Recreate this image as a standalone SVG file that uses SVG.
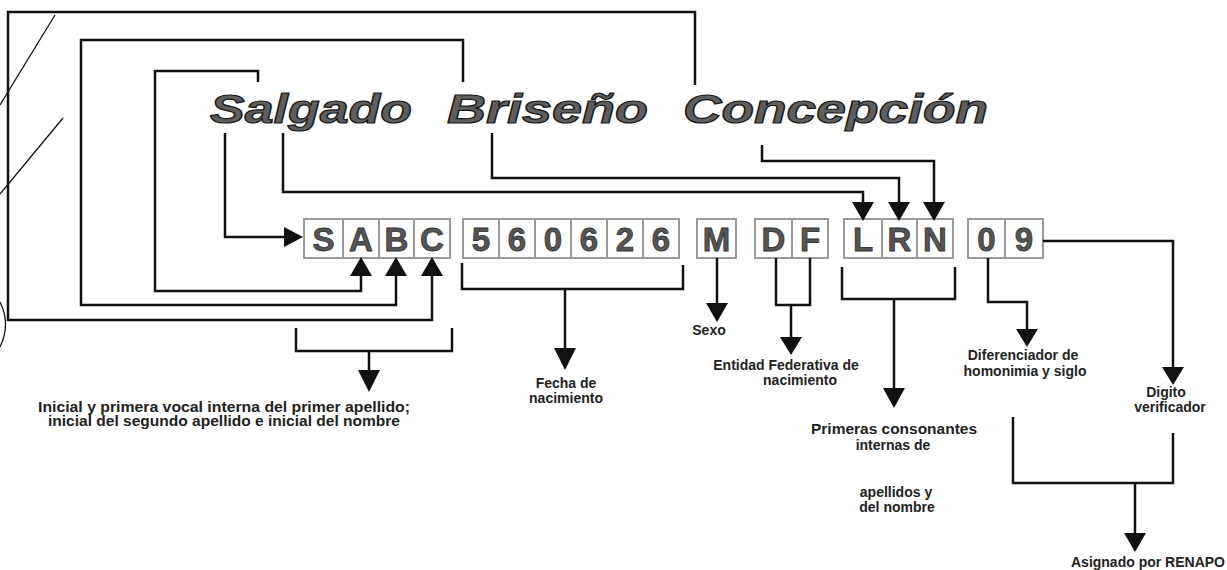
<svg xmlns="http://www.w3.org/2000/svg" width="1227" height="570" viewBox="0 0 1227 570">
<style>
.ln{fill:none;stroke:#111;stroke-width:2.5;stroke-linejoin:miter}
.thin{fill:none;stroke:#111;stroke-width:1.3}
.ah{fill:#111}
.cell{fill:#fff;stroke:#9a9a9a;stroke-width:2}
.ch{font-family:"Liberation Sans",Arial,sans-serif;font-weight:bold;font-size:33px;fill:#555;stroke:#333;stroke-width:0.8;text-anchor:middle}
.title{font-family:"Liberation Sans",Arial,sans-serif;font-weight:bold;font-style:italic;font-size:40px;fill:#5e5e5e;stroke:#1a1a1a;stroke-width:1.2}
.lbl{font-family:"Liberation Sans",Arial,sans-serif;font-weight:bold;font-size:14px;fill:#222;text-anchor:middle}
</style>
<rect width="1227" height="570" fill="#fff"/>

<g id="scribbles">
<path class="thin" d="M55,15 L0,105"/>
<path class="thin" d="M63,118 L0,194"/>
<path class="thin" d="M0,302 Q11,324 0,347"/>
</g>

<g id="title">
<text class="title" x="210" y="123" textLength="202" lengthAdjust="spacingAndGlyphs">Salgado</text>
<text class="title" x="447" y="123" textLength="201" lengthAdjust="spacingAndGlyphs">Briseño</text>
<text class="title" x="683" y="123" textLength="305" lengthAdjust="spacingAndGlyphs">Concepción</text>
</g>

<g id="sabc">
<rect class="cell" x="304" y="219" width="39" height="39"/>
<rect class="cell" x="343" y="219" width="36" height="39"/>
<rect class="cell" x="379" y="219" width="35" height="39"/>
<rect class="cell" x="414" y="219" width="36" height="39"/>
<text class="ch" x="323.5" y="251">S</text>
<text class="ch" x="361" y="251">A</text>
<text class="ch" x="396.5" y="251">B</text>
<text class="ch" x="432" y="251">C</text>
</g>

<g id="fecha">
<rect class="cell" x="463" y="219" width="36" height="39"/>
<rect class="cell" x="499" y="219" width="36" height="39"/>
<rect class="cell" x="535" y="219" width="36" height="39"/>
<rect class="cell" x="571" y="219" width="36" height="39"/>
<rect class="cell" x="607" y="219" width="36" height="39"/>
<rect class="cell" x="643" y="219" width="36" height="39"/>
<text class="ch" x="481" y="251">5</text>
<text class="ch" x="517" y="251">6</text>
<text class="ch" x="553" y="251">0</text>
<text class="ch" x="589" y="251">6</text>
<text class="ch" x="625" y="251">2</text>
<text class="ch" x="661" y="251">6</text>
</g>

<g id="sexo">
<rect class="cell" x="697" y="219" width="39" height="39"/>
<text class="ch" x="716.5" y="251">M</text>
</g>

<g id="entidad">
<rect class="cell" x="755" y="219" width="37" height="39"/>
<rect class="cell" x="792" y="219" width="36" height="39"/>
<text class="ch" x="773.5" y="251">D</text>
<text class="ch" x="810" y="251">F</text>
</g>

<g id="consonantes">
<rect class="cell" x="844" y="219" width="38" height="39"/>
<rect class="cell" x="882" y="219" width="35" height="39"/>
<rect class="cell" x="917" y="219" width="36" height="39"/>
<text class="ch" x="863" y="251">L</text>
<text class="ch" x="899.5" y="251">R</text>
<text class="ch" x="935" y="251">N</text>
</g>

<g id="homoclave">
<rect class="cell" x="968" y="219" width="37" height="39"/>
<rect class="cell" x="1005" y="219" width="38" height="39"/>
<text class="ch" x="986.5" y="251">0</text>
<text class="ch" x="1024" y="251">9</text>
</g>

<g id="connectors">
<path class="ln" d="M695,85 V12 H8 V320 H432 V274"/>
<polygon class="ah" points="432,257 421,276 443,276"/>
<path class="ln" d="M463,82 V40 H81 V305 H396 V274"/>
<polygon class="ah" points="396,257 385,276 407,276"/>
<path class="ln" d="M258,82 V71 H155 V291 H361 V274"/>
<polygon class="ah" points="361,257 350,276 372,276"/>
<path class="ln" d="M225,133 V237 H286"/>
<polygon class="ah" points="303,237 284,227 284,247"/>
<path class="ln" d="M283,133 V192 H863 V204"/>
<polygon class="ah" points="863,221 852,202 874,202"/>
<path class="ln" d="M492,133 V178 H899 V204"/>
<polygon class="ah" points="899,221 888,202 910,202"/>
<path class="ln" d="M762,145 V161 H934 V204"/>
<polygon class="ah" points="934,221 923,202 945,202"/>

<path class="ln" d="M296,328 V351 H452 V328 M369,351 V372"/>
<polygon class="ah" points="369,392 358,370 380,370"/>
<path class="ln" d="M462,263 V289 H683 V265 M565,289 V350"/>
<polygon class="ah" points="565,370 554,348 576,348"/>
<path class="ln" d="M717,258 V305"/>
<polygon class="ah" points="717,322 706,303 728,303"/>
<path class="ln" d="M776,258 V305 H810 V258 M791,305 V339"/>
<polygon class="ah" points="791,355 780,337 802,337"/>
<path class="ln" d="M842,267 V299 H955 V267 M894,299 V390"/>
<polygon class="ah" points="894,408 883,388 905,388"/>
<path class="ln" d="M988,258 V302 H1027 V331"/>
<polygon class="ah" points="1027,347 1016,329 1038,329"/>
<path class="ln" d="M1043,241 H1173 V369"/>
<polygon class="ah" points="1173,385 1162,367 1184,367"/>
<path class="ln" d="M1013,417 V483 H1173 V433 M1135,483 V535"/>
<polygon class="ah" points="1135,552 1124,533 1146,533"/>
</g>

<g id="labels">
<text class="lbl" x="224" y="412" textLength="372" lengthAdjust="spacingAndGlyphs">Inicial y primera vocal interna del primer apellido;</text>
<text class="lbl" x="224" y="426" textLength="352" lengthAdjust="spacingAndGlyphs">inicial del segundo apellido e inicial del nombre</text>
<text class="lbl" x="566" y="388">Fecha de</text>
<text class="lbl" x="566" y="403">nacimiento</text>
<text class="lbl" x="709" y="335">Sexo</text>
<text class="lbl" x="786" y="370">Entidad Federativa de</text>
<text class="lbl" x="800" y="385">nacimiento</text>
<text class="lbl" x="894" y="434" textLength="166" lengthAdjust="spacingAndGlyphs">Primeras consonantes</text>
<text class="lbl" x="893" y="450">internas de</text>
<text class="lbl" x="896" y="497">apellidos y</text>
<text class="lbl" x="897" y="512">del nombre</text>
<text class="lbl" x="1023" y="360">Diferenciador de</text>
<text class="lbl" x="1025" y="376">homonimia y siglo</text>
<text class="lbl" x="1166" y="397">Digito</text>
<text class="lbl" x="1170" y="412">verificador</text>
<text class="lbl" x="1148" y="567">Asignado por RENAPO</text>
</g>
</svg>
